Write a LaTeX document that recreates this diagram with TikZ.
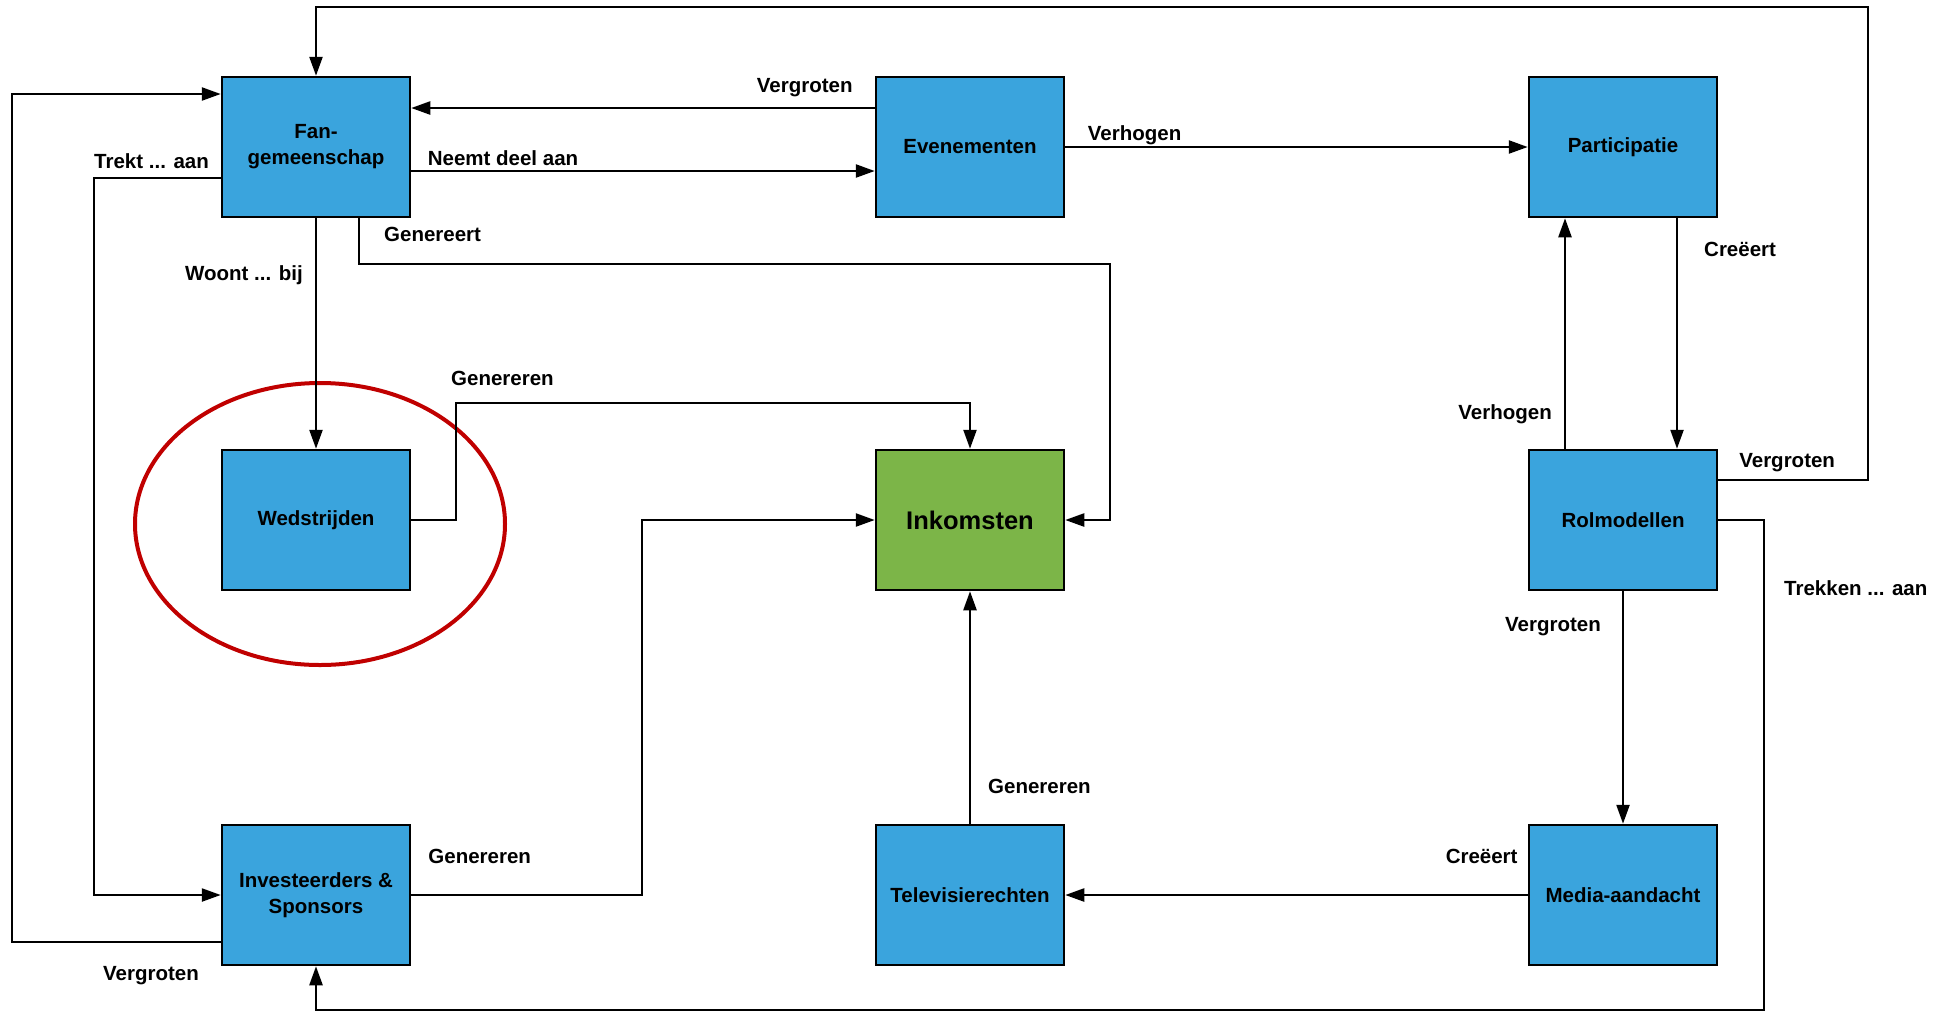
\documentclass[tikz,border=0pt]{standalone}
\usepackage{fontspec}
\setmainfont{Liberation Sans}
\usetikzlibrary{positioning,arrows.meta}
\definecolor{boxblue}{RGB}{58,164,221}
\definecolor{boxgreen}{RGB}{124,181,72}
\definecolor{ringred}{RGB}{192,0,0}
\begin{document}
\begin{tikzpicture}[x=1pt, y=-1pt, on grid, line width=2.4pt, >={Triangle[length=19pt,width=13pt]},
    box/.style = {draw, line width=2.5pt, fill=boxblue, minimum width=188pt, minimum height=140pt, align=center, font=\fontsize{20.5}{26}\selectfont\bfseries},
    lbl/.style = {font=\fontsize{20.5}{25}\selectfont\bfseries, inner sep=0pt}]
    \useasboundingbox (0,0) rectangle (1944,1013);
    \draw[ringred, line width=4pt] (320,524) ellipse [x radius=185, y radius=141];
    \node[box] (fan) at (316,147) {Fan-\\gemeenschap};
    \node[box] (even) [right=654pt of fan] {Evenementen};
    \node[box] (part) [right=653pt of even] {Participatie};
    \node[box] (wed) [below=373pt of fan] {Wedstrijden};
    \node[box, fill=boxgreen, font=\fontsize{25.5}{30}\selectfont\bfseries] (ink) [below=373pt of even] {Inkomsten};
    \node[box] (rol) [below=373pt of part] {Rolmodellen};
    \node[box] (inv) [below=375pt of wed] {Investeerders \&\\Sponsors};
    \node[box] (tv) [below=375pt of ink] {Televisierechten};
    \node[box] (media) [below=375pt of rol] {Media-aandacht};
    \coordinate (topright) at (1868,7);
    \coordinate (farleft) at (12,94);
    \coordinate (trekt) at (94,600);
    \coordinate (gen) at (1110,264);
    \coordinate (wedbend) at (456,403);
    \coordinate (invbend) at (642,700);
    \coordinate (botright) at (1764,1010);
    \draw[->] ([yshift=40pt]rol.east) -| (topright) node[lbl, anchor=base, pos=0.23, yshift=13pt] {Vergroten} -| (fan.north);
    \draw[->] ([yshift=-47pt]inv.west) -| (farleft) node[lbl, anchor=base, pos=0.167, yshift=-38pt] {Vergroten} -- ([yshift=53pt]fan.west);
    \draw[->] ([yshift=-31pt]fan.west) -| (trekt) node[lbl, anchor=base, pos=0.273, yshift=10pt] {Trekt ... aan} |- (inv.west);
    \draw[->] ([yshift=39pt]even.west) -- ([yshift=39pt]fan.east) node[lbl, anchor=base, pos=0.151, yshift=16pt] {Vergroten};
    \draw[->] ([yshift=-24pt]fan.east) -- ([yshift=-24pt]even.west) node[lbl, anchor=base, pos=0.198, yshift=6pt] {Neemt deel aan};
    \draw[->] (even.east) -- (part.west) node[lbl, anchor=base, pos=0.15, yshift=7pt] {Verhogen};
    \draw[->] ([xshift=43pt]fan.south) node[lbl, anchor=base west, xshift=24pt, yshift=-23pt] {Genereert} |- (gen) |- (ink.east);
    \draw[->] (fan.south) -- (wed.north) node[lbl, anchor=base east, pos=0.27, xshift=-12pt] {Woont ... bij};
    \draw[->] (wed.east) -| (wedbend) node[lbl, anchor=base west, xshift=-6pt, yshift=18pt] {Genereren} -| (ink.north);
    \draw[->] (inv.east) node[lbl, anchor=base west, xshift=16pt, yshift=32pt] {Genereren} -| (invbend) |- (ink.west);
    \draw[->] (tv.north) -- (ink.south) node[lbl, anchor=base west, pos=0.132, xshift=17pt] {Genereren};
    \draw[->] (media.west) node[lbl, anchor=base east, xshift=-9pt, yshift=32pt] {Creëert} -- (tv.east);
    \draw[->] (rol.south) -- (media.north) node[lbl, anchor=base east, pos=0.171, xshift=-21pt] {Vergroten};
    \draw[->] ([xshift=54pt]part.south) -- ([xshift=54pt]rol.north) node[lbl, anchor=base west, pos=0.167, xshift=26pt] {Creëert};
    \draw[->] ([xshift=-58pt]rol.north) -- ([xshift=-58pt]part.south) node[lbl, anchor=base east, pos=0.129, xshift=-12pt] {Verhogen};
    \draw[->] (rol.east) -| (botright) node[lbl, anchor=base west, pos=0.577, xshift=19pt] {Trekken ... aan} -| (inv.south);
\end{tikzpicture}
\end{document}
